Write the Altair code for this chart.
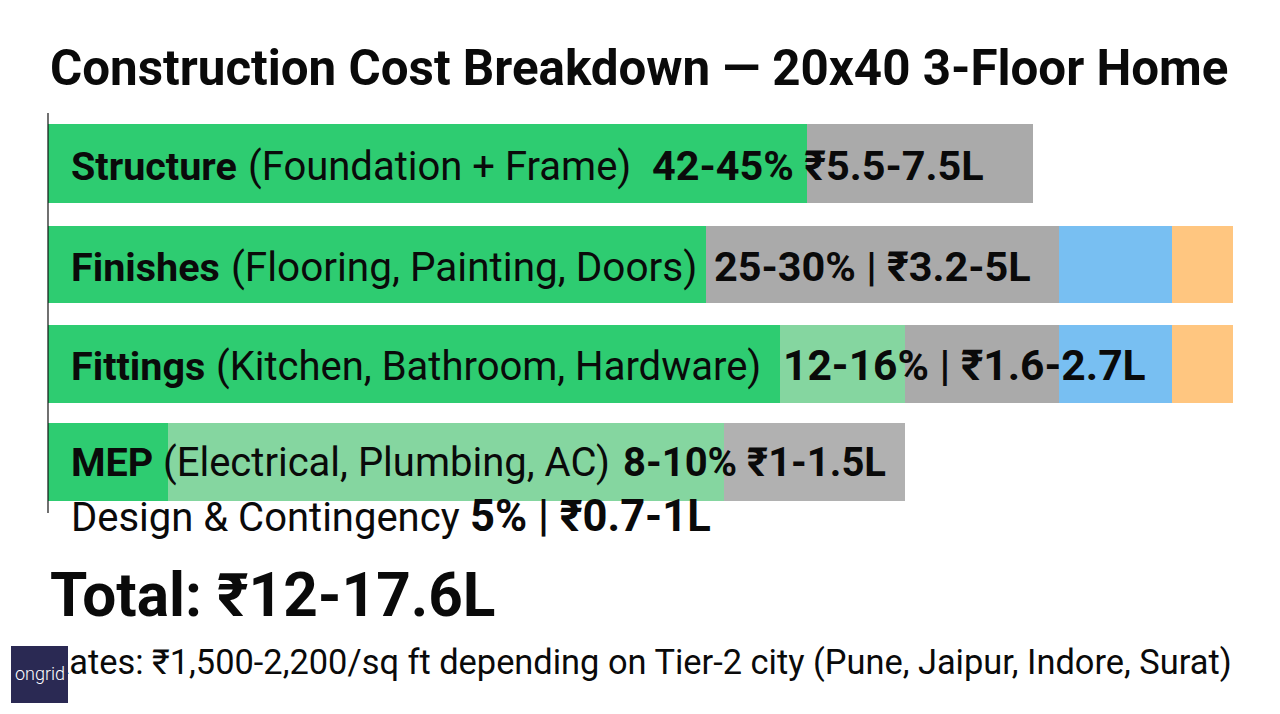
"""Construction cost breakdown chart: stacked segments with overlaid labels."""
import altair as alt
import pandas as pd

# ==================== data ====================
ROWS = ["Structure", "Finishes", "Fittings", "MEP"]
SEGMENTS = ["green", "light green", "grey", "light grey", "blue", "orange"]
STRUCTURE = [759, 0, 226, 0, 0, 0]
FINISHES = [658, 0, 353, 0, 113, 61]
FITTINGS = [732, 125, 154, 0, 113, 61]
MEP = [120, 556, 0, 181, 0, 0]

TITLE = "Construction Cost Breakdown — 20x40 3-Floor Home"
ROW_NAMES = ["Structure", "Finishes", "Fittings", "MEP"]
ROW_NOTES = [
    "(Foundation + Frame)",
    "(Flooring, Painting, Doors)",
    "(Kitchen, Bathroom, Hardware)",
    "(Electrical, Plumbing, AC)",
]
ROW_FIGURES = ["42-45% ₹5.5-7.5L", "25-30% | ₹3.2-5L", "12-16% | ₹1.6-2.7L", "8-10% ₹1-1.5L"]
DESIGN_NAME = "Design & Contingency"
DESIGN_FIGURE = "5% | ₹0.7-1L"
TOTAL = "Total: ₹12-17.6L"
RATES = "Rates: ₹1,500-2,200/sq ft depending on Tier-2 city (Pune, Jaipur, Indore, Surat)"
LOGO = "ongrid"

# ==================== layout ====================
PAGE_MARGIN = 8
WIDTH = 1264
HEIGHT = 698
FONT = "Roboto"
COLORS = ["#2ECC71", "#85D6A0", "#AAAAAA", "#B1B1B1", "#78BFF2", "#FFC680"]
ROW_TOPS = [124, 226, 325, 423]
ROW_BOTTOMS = [203, 303, 403, 501]


def row_bars(row, widths, top, bottom):
    """한 행의 구간 막대를 만든다"""
    rows = []
    start = 0
    for segment, width in zip(SEGMENTS, widths):
        if width:
            rows.append({"row": row, "segment": segment, "start": start, "end": start + width})
        start += width
    return alt.Chart(pd.DataFrame(rows)).mark_bar().encode(
        x=alt.X("start:Q", axis=None, scale=alt.Scale(domain=[-40, 1224], nice=False, zero=False)),
        x2="end:Q",
        y=alt.value(top - PAGE_MARGIN),
        y2=alt.value(bottom - PAGE_MARGIN),
        color=alt.Color("segment:N", legend=None, scale=alt.Scale(domain=SEGMENTS, range=COLORS)),
    )


bars = [
    row_bars(row, widths, top, bottom)
    for row, widths, top, bottom in zip(
        ROWS, [STRUCTURE, FINISHES, FITTINGS, MEP], ROW_TOPS, ROW_BOTTOMS
    )
]

axis_line = alt.Chart(pd.DataFrame({"a": [0]})).mark_rule(color="#111111", strokeWidth=1.2).encode(
    x=alt.value(48 - PAGE_MARGIN),
    y=alt.value(113 - PAGE_MARGIN),
    y2=alt.value(513 - PAGE_MARGIN),
)


def label(text, left, baseline, size, weight="normal", color="#0a0a0a"):
    """텍스트 한 줄을 페이지 픽셀 좌표 기준으로 배치"""
    return alt.Chart(pd.DataFrame({"t": [text]})).mark_text(
        align="left", baseline="alphabetic", font=FONT, fontSize=size, fontWeight=weight, color=color
    ).encode(
        x=alt.value(left - PAGE_MARGIN),
        y=alt.value(baseline - PAGE_MARGIN),
        text="t:N",
    )


logo_box = alt.Chart(pd.DataFrame({"a": [0]})).mark_rect(color="#2A2953").encode(
    x=alt.value(11 - PAGE_MARGIN),
    x2=alt.value(68 - PAGE_MARGIN),
    y=alt.value(646 - PAGE_MARGIN),
    y2=alt.value(703 - PAGE_MARGIN),
)

texts = [
    label(TITLE, 50, 85, 49.3, "bold"),
    label(ROW_NAMES[0], 71, 180, 39.5, "bold"),
    label(ROW_NOTES[0], 248, 180, 40),
    label(ROW_FIGURES[0], 652, 180, 41.4, "bold"),
    label(ROW_NAMES[1], 71, 281, 39.5, "bold"),
    label(ROW_NOTES[1], 231, 281, 40.5),
    label(ROW_FIGURES[1], 714, 281, 41.4, "bold"),
    label(ROW_NAMES[2], 71, 380, 39.5, "bold"),
    label(ROW_NOTES[2], 216, 380, 40),
    label(ROW_FIGURES[2], 783, 380, 42.6, "bold"),
    label(ROW_NAMES[3], 71, 476, 39.5, "bold"),
    label(ROW_NOTES[3], 163, 476, 40),
    label(ROW_FIGURES[3], 623, 476, 40, "bold"),
    label(DESIGN_NAME, 71, 531, 40),
    label(DESIGN_FIGURE, 470, 531, 43.5, "bold"),
    label(TOTAL, 50, 616, 60.3, "bold"),
    label(RATES, 48, 674, 34.4),
]

chart = alt.layer(
    *bars, axis_line, *texts, logo_box, label(LOGO, 15, 680, 18, 300, "#ffffff")
).properties(
    width=WIDTH,
    height=HEIGHT,
    padding=0,
    background="white",
    autosize=alt.AutoSizeParams(type="none"),
).configure_view(stroke=None)

chart.save("out.html", embed_options={"renderer": "svg", "actions": False})
